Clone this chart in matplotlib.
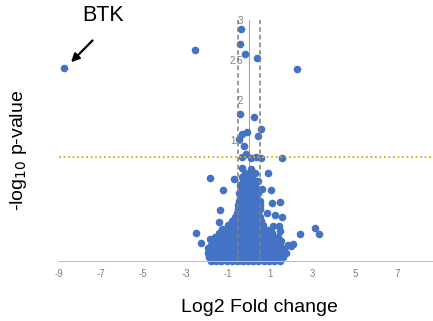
import matplotlib
matplotlib.use("Agg")
import matplotlib.pyplot as plt

plt.rcParams['font.family'] = ['Liberation Sans', 'DejaVu Sans']

# ---- data (log2 fold change, -log10 p-value) ----
outlier_fc = [-8.76, -2.57, 2.29, -0.38, -0.43, -0.19, 0.38, -0.43, 0.24,
              -0.33, -0.10, 0.57, 0.43, -0.48, -0.24, -0.14, -0.33, 0.10,
              0.33, 0.57, 1.57, -0.33, 0.10]
outlier_p = [2.40, 2.63, 2.39, 2.89, 2.70, 2.58, 2.53, 1.83, 1.79,
             1.58, 1.60, 1.64, 1.55, 1.52, 1.43, 1.33, 1.29, 1.28,
             1.29, 1.28, 1.28, 1.16, 1.14]

side_fc = [-1.86, -1.24, -0.71, 0.90, 1.05, 1.07, 1.48, -1.38, -1.43, -2.50,
           -2.25, 3.14, 3.29, 2.43, 2.10, 1.86, 1.56, 0.84, 1.24, 1.16,
           1.40, 1.48, 0.92, -1.86, -1.95, 0.37, -1.62, 2.00]
side_p = [1.03, 0.89, 1.02, 1.09, 0.89, 0.72, 0.74, 0.64, 0.49, 0.35,
          0.23, 0.41, 0.33, 0.34, 0.21, 0.20, 0.55, 0.60, 0.57, 0.43,
          0.43, 0.37, 0.39, 0.28, 0.16, 0.99, 0.06, 0.19]

cloud_rows_p = [0.00, 0.05, 0.10, 0.15, 0.20, 0.25, 0.30, 0.35, 0.40, 0.45,
                0.50, 0.55, 0.60, 0.65, 0.70, 0.75, 0.80, 0.85, 0.90, 0.95,
                1.00, 1.05, 1.10]
cloud_rows_fc = [
    [-1.8, -1.55, -1.3, -1.05, -0.8, -0.55, -0.3, -0.05, 0.2, 0.45, 0.7, 0.95, 1.2, 1.45],
    [-1.9, -1.65, -1.4, -1.15, -0.9, -0.65, -0.4, -0.15, 0.1, 0.35, 0.6, 0.85, 1.1, 1.35, 1.6],
    [-1.95, -1.7, -1.45, -1.2, -0.95, -0.7, -0.45, -0.2, 0.05, 0.3, 0.55, 0.8, 1.05, 1.3, 1.55, 1.75],
    [-1.85, -1.6, -1.35, -1.1, -0.85, -0.6, -0.35, -0.1, 0.15, 0.4, 0.65, 0.9, 1.15, 1.4, 1.65],
    [-1.8, -1.55, -1.3, -1.05, -0.8, -0.55, -0.3, -0.05, 0.2, 0.45, 0.7, 0.95, 1.2, 1.45],
    [-1.7, -1.45, -1.2, -0.95, -0.7, -0.45, -0.2, 0.05, 0.3, 0.55, 0.8, 1.05, 1.3, 1.5],
    [-1.6, -1.35, -1.1, -0.85, -0.6, -0.35, -0.1, 0.15, 0.4, 0.65, 0.9, 1.15, 1.35],
    [-1.4, -1.15, -0.9, -0.65, -0.4, -0.15, 0.1, 0.35, 0.6, 0.85, 1.1],
    [-1.25, -1.0, -0.75, -0.5, -0.25, 0.0, 0.25, 0.5, 0.7],
    [-1.0, -0.75, -0.5, -0.25, 0.0, 0.25, 0.5, 0.65],
    [-0.8, -0.55, -0.3, -0.05, 0.2, 0.45, 0.55],
    [-0.65, -0.4, -0.15, 0.1, 0.35, 0.5],
    [-0.55, -0.3, -0.05, 0.2, 0.45],
    [-0.5, -0.25, 0.0, 0.25, 0.5],
    [-0.5, -0.25, 0.0, 0.25, 0.5],
    [-0.45, -0.2, 0.05, 0.3, 0.5],
    [-0.4, -0.15, 0.1, 0.35],
    [-0.45, -0.2, 0.05, 0.3, 0.45],
    [-0.35, -0.1, 0.15, 0.4, 0.6],
    [-0.4, -0.15, 0.1, 0.3],
    [-0.3, -0.05, 0.2, 0.45],
    [-0.35, -0.1, 0.15],
    [-0.2, 0.05, 0.3],
]

x_ticks = [-9, -7, -5, -3, -1, 1, 3, 5, 7]
y_ticks = [0, 0.5, 1, 1.5, 2, 2.5, 3]
y_tick_labels = ["0", "0.5", "1", "1.5", "2", "2.5", "3"]
fc_cutoff = 0.5
p_cutoff = 1.3

# ---- figure ----
W, H = 433, 321
fig = plt.figure(figsize=(W / 100, H / 100), dpi=100)
ax = fig.add_axes([58.5 / W, 60 / H, (W - 58.5) / W, 241 / H])
ax.set_xlim(-9, -9 + (W - 58.5) / 21.16)
ax.set_ylim(0, 3)
ax.patch.set_visible(False)

blue = '#4472C4'
ms = 30
ax.scatter(outlier_fc, outlier_p, s=ms, color=blue, linewidths=0, zorder=2, clip_on=False)
ax.scatter(side_fc, side_p, s=ms, color=blue, linewidths=0, zorder=2, clip_on=False)
for yv, row in zip(cloud_rows_p, cloud_rows_fc):
    ax.scatter(row, [yv] * len(row), s=ms, color=blue, linewidths=0, zorder=2, clip_on=False)

# spines
for s in ['top', 'right']:
    ax.spines[s].set_visible(False)
ax.spines['left'].set_position(('data', 0))
ax.spines['left'].set_color('#a6a6a6')
ax.spines['left'].set_linewidth(0.8)
ax.spines['left'].set_zorder(1)
ax.spines['bottom'].set_color('#bfbfbf')
ax.spines['bottom'].set_linewidth(0.8)

ax.set_xticks(x_ticks)
ax.set_xticklabels([str(t) for t in x_ticks])
ax.set_yticks(y_ticks)
ax.set_yticklabels(y_tick_labels)
ax.tick_params(axis='both', length=0, labelsize=7, labelcolor='#7f7f7f')
ax.tick_params(axis='x', pad=6)
ax.tick_params(axis='y', pad=4)

# threshold lines
ax.plot([-fc_cutoff, -fc_cutoff], [0, 3], ls=(0, (3, 2)), color='#7f7f7f', lw=1.1, zorder=3)
ax.plot([fc_cutoff, fc_cutoff], [0, 3], ls=(0, (3, 2)), color='#7f7f7f', lw=1.1, zorder=3)
ax.axhline(p_cutoff, ls=(0, (1, 1.5)), color='#d4b000', lw=1.3, zorder=3)

# labels
fig.text(259 / W, 1 - 308 / H, 'Log2 Fold change', fontsize=14, ha='center', va='center')
fig.text(19 / W, 1 - 150 / H, r'-log$_{10}$ p-value', fontsize=14, ha='center',
         va='center', rotation=90)

# BTK annotation
ax.annotate('', xy=(-8.5, 2.45), xytext=(-7.3, 2.77),
            arrowprops=dict(arrowstyle='-|>', color='black', lw=1.6, mutation_scale=12),
            annotation_clip=False)
ax.text(-7.9, 3.06, 'BTK', fontsize=15.5, ha='left', va='center', clip_on=False)

fig.savefig('out.png', dpi=100)
